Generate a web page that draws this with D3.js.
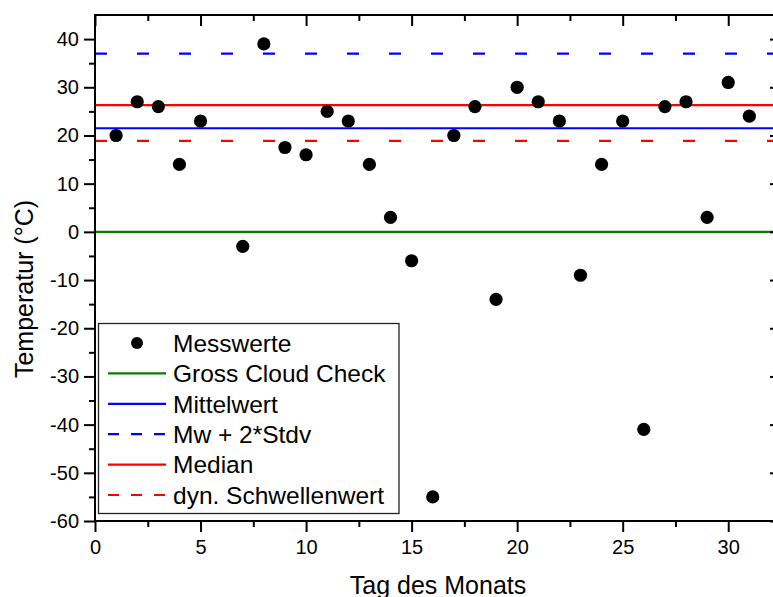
<!DOCTYPE html>
<html>
<head>
<meta charset="utf-8">
<script src="https://cdn.jsdelivr.net/npm/d3@7"></script>
<style>
  html, body { margin: 0; padding: 0; background: #fff; }
  svg { display: block; font-family: "Liberation Sans", Arial, sans-serif; }
</style>
</head>
<body>
<svg id="chart" width="773" height="597"></svg>
<script>
// ---- data ----
const days  = [1, 2, 3, 4, 5, 7, 8, 9, 10, 11, 12, 13, 14, 15, 16, 17, 18, 19, 20, 21, 22, 23, 24, 25, 26, 27, 28, 29, 30, 31];
const temps = [20, 27, 26, 14, 23, -3, 39, 17.5, 16, 25, 23, 14, 3, -6, -55, 20, 26, -14, 30, 27, 23, -9, 14, 23, -41, 26, 27, 3, 31, 24];

const lineNames  = ["Gross Cloud Check", "Mittelwert", "Mw + 2*Stdv", "Median", "dyn. Schwellenwert"];
const lineValues = [0, 21.5, 37, 26.3, 18.9];
const lineColors = ["#008000", "#0000ff", "#0000ff", "#ff0000", "#ff0000"];
const lineDashed = [false, false, true, false, true];

const xTicks = [0, 5, 10, 15, 20, 25, 30];
const yTicks = [-60, -50, -40, -30, -20, -10, 0, 10, 20, 30, 40];
const xTitle = "Tag des Monats";
const yTitle = "Temperatur (°C)";
const pointLabel = "Messwerte";

// ---- layout ----
const L = 95, R = 781, T = 15, B = 521;
const svg = d3.select("#chart");
const x = d3.scaleLinear().domain([0, 32.5]).range([L, R]);
const y = d3.scaleLinear().domain([-60, 45]).range([B, T]);
const fmt = d => String(d);   // plain hyphen-minus, as in the reference

svg.append("defs").append("clipPath").attr("id", "clip")
  .append("rect").attr("x", L).attr("y", T).attr("width", R - L).attr("height", B - T);

const plot = svg.append("g").attr("clip-path", "url(#clip)");

// horizontal reference lines
lineValues.forEach((v, i) => {
  plot.append("line")
    .attr("x1", x(0)).attr("x2", x(32.5))
    .attr("y1", y(v)).attr("y2", y(v))
    .attr("stroke", lineColors[i]).attr("stroke-width", 2.2)
    .attr("stroke-dasharray", lineDashed[i] ? "12,30" : null);
});

// points
plot.selectAll("circle.pt").data(days.map((d, i) => [d, temps[i]]))
  .enter().append("circle").attr("class", "pt")
  .attr("cx", d => x(d[0])).attr("cy", d => y(d[1])).attr("r", 6.6)
  .attr("fill", "#000");

// ---- axes ----
const minorX = d3.range(2.5, 32.5, 5);
const minorY = d3.range(-55, 45, 10);
const axisStyle = g => {
  g.select(".domain").remove();
  g.selectAll(".tick line").attr("stroke", "#000").attr("stroke-width", 2);
  g.selectAll("text").attr("fill", "#000").style("font-size", "20px").style("font-family", "'Liberation Sans', Arial, sans-serif");
};

// bottom
svg.append("g").attr("transform", `translate(0,${B})`)
  .call(d3.axisBottom(x).tickValues(xTicks).tickSize(11).tickPadding(8).tickFormat(fmt))
  .call(axisStyle);
svg.append("g").attr("transform", `translate(0,${B})`)
  .call(d3.axisBottom(x).tickValues(minorX).tickSize(6).tickFormat(""))
  .call(axisStyle);
// top (inward)
svg.append("g").attr("transform", `translate(0,${T})`)
  .call(d3.axisTop(x).tickValues(xTicks).tickSize(-11).tickFormat(""))
  .call(axisStyle);
svg.append("g").attr("transform", `translate(0,${T})`)
  .call(d3.axisTop(x).tickValues(minorX).tickSize(-6).tickFormat(""))
  .call(axisStyle);
// left
svg.append("g").attr("transform", `translate(${L},0)`)
  .call(d3.axisLeft(y).tickValues(yTicks).tickSize(11).tickPadding(5).tickFormat(fmt))
  .call(axisStyle);
svg.append("g").attr("transform", `translate(${L},0)`)
  .call(d3.axisLeft(y).tickValues(minorY).tickSize(6).tickFormat(""))
  .call(axisStyle);
// right (inward)
svg.append("g").attr("transform", `translate(${R},0)`)
  .call(d3.axisRight(y).tickValues(yTicks).tickSize(-11).tickFormat(""))
  .call(axisStyle);
svg.append("g").attr("transform", `translate(${R},0)`)
  .call(d3.axisRight(y).tickValues(minorY).tickSize(-6).tickFormat(""))
  .call(axisStyle);

// frame
svg.append("rect").attr("x", L).attr("y", T).attr("width", R - L).attr("height", B - T)
  .attr("fill", "none").attr("stroke", "#000").attr("stroke-width", 2);

// titles
svg.append("text").attr("x", (L + R) / 2).attr("y", 594).attr("text-anchor", "middle")
  .style("font-size", "25px").attr("fill", "#000").text(xTitle);
svg.append("text").attr("transform", "translate(33,289) rotate(-90)").attr("text-anchor", "middle")
  .style("font-size", "25px").attr("fill", "#000").text(yTitle);

// ---- legend ----
const lg = svg.append("g");
lg.append("rect").attr("x", 98.5).attr("y", 323.5).attr("width", 300.5).attr("height", 190)
  .attr("fill", "#fff").attr("stroke", "#222").attr("stroke-width", 1.3);
const rowY = i => 343 + i * 30.4;
lg.append("circle").attr("cx", 137).attr("cy", rowY(0)).attr("r", 6).attr("fill", "#000");
lg.append("text").attr("x", 173).attr("y", rowY(0) + 8.7).style("font-size", "24.5px").attr("fill", "#000").text(pointLabel);
lineNames.forEach((n, i) => {
  const yy = rowY(i + 1);
  lg.append("line").attr("x1", 108).attr("x2", 166).attr("y1", yy).attr("y2", yy)
    .attr("stroke", lineColors[i]).attr("stroke-width", 2.2)
    .attr("stroke-dasharray", lineDashed[i] ? "11,12" : null);
  lg.append("text").attr("x", 173).attr("y", yy + 8.7).style("font-size", "24.5px").attr("fill", "#000").text(n);
});
</script>
</body>
</html>
